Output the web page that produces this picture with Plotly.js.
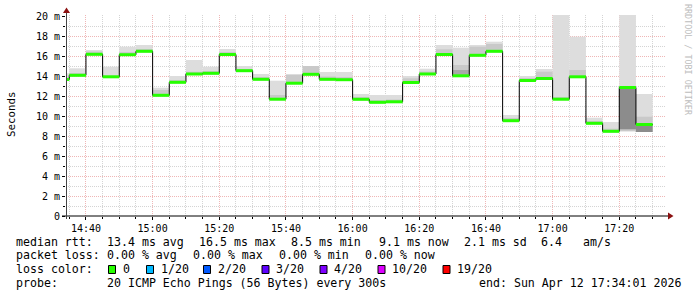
<!DOCTYPE html>
<html><head><meta charset="utf-8">
<script src="https://cdn.plot.ly/plotly-3.0.1.min.js"></script>
<style>html,body{margin:0;padding:0;background:#fff;}#chart{width:697px;height:297px;}</style>
</head><body><div id="chart"></div>
<script>
// ---------- data ----------
const DAY = '2026-04-12 ';
const intervalStart = ['14:30','14:35','14:40','14:45','14:50','14:55','15:00','15:05','15:10','15:15',
  '15:20','15:25','15:30','15:35','15:40','15:45','15:50','15:55','16:00','16:05','16:10','16:15',
  '16:20','16:25','16:30','16:35','16:40','16:45','16:50','16:55','17:00','17:05','17:10','17:15',
  '17:20','17:25'];
const lastIntervalEnd = '17:30';
const medianRtt = [13.65,14.07,16.17,13.92,16.13,16.47,12.07,13.37,14.2,14.27,16.15,14.53,13.67,11.68,
  13.28,14.17,13.67,13.63,11.67,11.37,11.42,13.35,14.2,16.15,14.02,16.07,16.47,9.53,13.55,13.75,11.68,
  13.92,9.27,8.47,12.85,9.15];
const smokeMax = [14.27,14.77,16.6,14.93,16.93,17.1,12.83,14.0,15.6,14.93,16.7,15.0,14.2,13.53,14.2,15.0,
  14.4,14.4,12.2,12.1,12.1,14.0,14.73,17.1,16.83,17.1,17.43,10.1,14.0,14.7,20.6,17.93,9.83,9.4,20.6,12.2];
const smokeMin = [13.55,13.97,16.07,13.82,16.03,16.37,11.97,13.27,14.1,14.17,16.05,14.43,13.57,11.58,13.18,
  14.07,13.57,13.53,11.57,11.27,11.32,13.25,14.1,16.05,13.92,15.97,16.37,9.43,13.45,13.65,11.58,13.82,9.17,
  8.37,8.47,8.4];
const smokeMidTop = [13.85,14.3,16.45,14.05,16.4,16.7,12.6,13.6,14.43,14.5,16.4,14.7,13.9,12.1,14.1,15.0,
  13.95,13.9,11.9,11.6,11.65,13.77,14.45,16.67,15.1,16.93,17.2,9.8,13.8,14.43,11.9,14.6,9.5,8.73,12.85,9.93];
const smokeDarkBottom = [null,null,null,null,null,null,null,null,null,null,null,null,null,null,null,null,null,null,
  null,null,null,null,null,null,13.92,null,null,null,null,null,null,null,null,null,null,null];
const smokeDarkTop = [null,null,null,null,null,null,null,null,null,null,null,null,null,null,null,null,null,null,
  null,null,null,null,null,null,14.6,null,null,null,null,null,null,null,null,null,null,null];
const smokeCoreBottom = [null,null,null,null,null,null,null,null,null,null,null,null,null,null,null,null,null,null,
  null,null,null,null,null,null,null,null,null,null,null,null,null,null,null,null,8.67,8.4];
const smokeCoreTop = [null,null,null,null,null,null,null,null,null,null,null,null,null,null,null,null,null,null,
  null,null,null,null,null,null,null,null,null,null,null,null,null,null,null,null,12.85,9.15];

const yTickVals = [0,2,4,6,8,10,12,14,16,18,20];
const yTickText = ['0','2 m','4 m','6 m','8 m','10 m','12 m','14 m','16 m','18 m','20 m'];
const lossLabels = ['0','1/20','2/20','3/20','4/20','10/20','19/20'];
const lossColors = ['#26ff00','#00b8ff','#0059ff','#5e00ff','#7e00ff','#dd00ff','#ff0000'];
const rttLabel = 'median rtt:';
const rttItems = ['13.4 ms avg','16.5 ms max','8.5 ms min','9.1 ms now','2.1 ms sd','6.4','am/s'];
const lossLabel = 'packet loss:';
const lossItems = ['0.00 % avg','0.00 % max','0.00 % min','0.00 % now'];
const colorLabel = 'loss color:';
const probeLabel = 'probe:';
const probeText = '20 ICMP Echo Pings (56 Bytes) every 300s';
const endText = 'end: Sun Apr 12 17:34:01 2026';
const yTitle = 'Seconds';
const creditText = 'RRDTOOL / TOBI OETIKER';

// ---------- geometry helpers ----------
const L = 66, W = 600, T = 15, H = 201;
const px = v => (v - L) / W;
const py = v => 1 - (v - T) / H;
const nb = s => s.replace(/ /g, '\u00a0');
const MONO = 'DejaVu Sans Mono';

const xs = intervalStart.map(t => DAY + t + ':00');
const FIVE = 300000;

function band(lo, hi, color, name) {
  return {
    type: 'bar', name: name, x: xs,
    base: lo, y: hi.map((h, i) => (h == null || lo[i] == null) ? null : h - lo[i]),
    offset: 0, width: FIVE,
    marker: {color: color, line: {width: 0}},
    hoverinfo: 'skip', showlegend: false
  };
}

const stepX = xs.concat([DAY + lastIntervalEnd + ':00']);
const stepY = medianRtt.concat([medianRtt[medianRtt.length - 1]]);
const greenX = [], greenY = [];
medianRtt.forEach((m, i) => { greenX.push(stepX[i], stepX[i + 1], null); greenY.push(m, m, null); });

const traces = [
  band(smokeMin, smokeMax, '#dddddd', 'smoke'),
  band(smokeMin, smokeMidTop, '#c9c9c9', 'smoke mid'),
  band(smokeDarkBottom, smokeDarkTop, '#a8a8a8', 'smoke dark'),
  band(smokeCoreBottom, smokeCoreTop, '#8c8c8c', 'smoke core'),
  {type: 'scatter', mode: 'lines', x: stepX, y: stepY, line: {shape: 'hv', color: '#000', width: 1},
   hoverinfo: 'skip', showlegend: false},
  {type: 'scatter', mode: 'lines', x: greenX, y: greenY, line: {color: lossColors[0], width: 3},
   connectgaps: false, name: 'median rtt', showlegend: false}
];

const ann = [];
const txt = (x, y, text, opts) => Object.assign({
  xref: 'paper', yref: 'paper', x: px(x), y: py(y), text: nb(text), showarrow: false,
  xanchor: 'left', yanchor: 'middle', borderpad: 0, borderwidth: 0,
  font: {family: MONO, size: 11.6, color: '#000'}
}, opts || {});

const lineY = [241.5, 255.3, 269.2, 283];
const colX = 107;
ann.push(txt(16, lineY[0], rttLabel));
const rttX = [colX, 199, 291, 379, 464, 541, 583];
rttItems.forEach((s, i) => ann.push(txt(rttX[i], lineY[0], s)));
ann.push(txt(16, lineY[1], lossLabel));
const lossX = [colX, 193, 279, 365];
lossItems.forEach((s, i) => ann.push(txt(lossX[i], lineY[1], s)));
ann.push(txt(16, lineY[2], colorLabel));
ann.push(txt(16, lineY[3], probeLabel));
ann.push(txt(colX, lineY[3], probeText));
ann.push(txt(681, lineY[3], endText, {xanchor: 'right'}));
ann.push(txt(11, 114, yTitle, {xanchor: 'center', textangle: -90, font: {family: MONO, size: 10.8, color: '#000'}}));
ann.push(txt(688, 60, creditText, {xanchor: 'center', textangle: 90, font: {family: MONO, size: 8.4, color: '#bdbdbd'}}));

const boxLeft = [108, 146, 203, 261.5, 319.5, 377.5, 442.5];
const shapes = [];
lossLabels.forEach((lab, i) => {
  shapes.push({type: 'rect', xref: 'paper', yref: 'paper', x0: px(boxLeft[i] + 0.5), x1: px(boxLeft[i] + 7.5),
    y0: py(265.5), y1: py(273.5), fillcolor: lossColors[i], line: {color: '#000', width: 1}});
  ann.push(txt(boxLeft[i] + 14.5, lineY[2], lab));
});

// axes with arrows
shapes.push({type: 'line', xref: 'paper', yref: 'paper', x0: px(62), x1: px(669), y0: py(216), y1: py(216),
  line: {color: '#000', width: 1}});
shapes.push({type: 'line', xref: 'paper', yref: 'paper', x0: px(66.5), x1: px(66.5), y0: py(219), y1: py(12),
  line: {color: '#444', width: 1}});
shapes.push({type: 'path', xref: 'paper', yref: 'paper', fillcolor: '#8b1010', line: {width: 0},
  path: `M ${px(668)} ${py(212.5)} L ${px(673.5)} ${py(216)} L ${px(668)} ${py(219.5)} Z`});
shapes.push({type: 'path', xref: 'paper', yref: 'paper', fillcolor: '#8b1010', line: {width: 0},
  path: `M ${px(63)} ${py(13)} L ${px(66.5)} ${py(7.5)} L ${px(70)} ${py(13)} Z`});

const gridRed = '#efb6b6', gridGrey = '#d4d4d4';
const layout = {
  width: 697, height: 297,
  margin: {l: L, r: 697 - L - W, t: T, b: 297 - T - H, pad: 0},
  paper_bgcolor: '#fff', plot_bgcolor: '#fff',
  barmode: 'overlay', showlegend: false,
  xaxis: {
    type: 'date', range: [DAY + '14:34:01', DAY + '17:34:01'],
    tickmode: 'linear', tick0: DAY + '14:40:00', dtick: 1200000, tickformat: '%H:%M',
    showgrid: true, gridcolor: gridRed, griddash: '1px,1px', gridwidth: 1,
    ticks: 'outside', ticklen: 3, tickcolor: '#000', tickwidth: 1,
    tickfont: {family: MONO, size: 10, color: '#000'},
    showline: false, zeroline: false, fixedrange: true,
    minor: {tickmode: 'linear', tick0: DAY + '14:40:00', dtick: FIVE, showgrid: true,
      gridcolor: gridGrey, griddash: '1px,1px', ticks: 'outside', ticklen: 2, tickcolor: '#000'}
  },
  yaxis: {
    range: [0, 20.1], tickmode: 'array', tickvals: yTickVals, ticktext: yTickText,
    showgrid: true, gridcolor: gridRed, griddash: '1px,1px', gridwidth: 1,
    ticks: 'outside', ticklen: 3, tickcolor: '#000', tickwidth: 1,
    tickfont: {family: MONO, size: 10, color: '#000'},
    showline: false, zeroline: false, fixedrange: true,
    minor: {tickmode: 'linear', tick0: 0, dtick: 1, showgrid: true, gridcolor: gridGrey,
      griddash: '1px,1px', ticks: 'outside', ticklen: 2, tickcolor: '#000'}
  },
  annotations: ann, shapes: shapes
};

Plotly.newPlot('chart', traces, layout, {displayModeBar: false, staticPlot: true});
</script>
</body></html>
